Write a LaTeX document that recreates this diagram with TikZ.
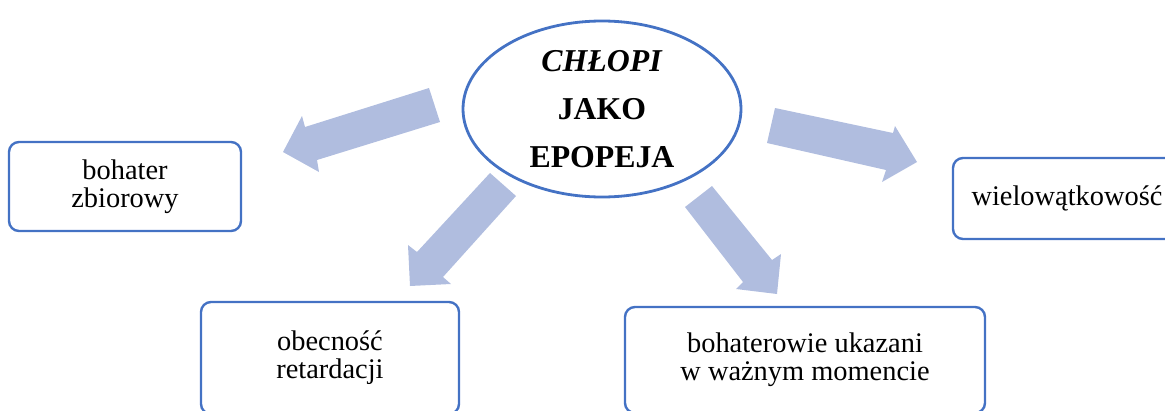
\documentclass[tikz,border=0pt]{standalone}
\usepackage{fontspec}
\setmainfont{Liberation Serif}
\usetikzlibrary{shapes.geometric}
\definecolor{boxblue}{RGB}{68,114,196}
\definecolor{arrowfill}{RGB}{176,189,223}
\tikzset{
  textbox/.style={draw=boxblue, line width=2.4pt, rounded corners=10pt, align=center,
    inner sep=0pt, font=\fontsize{28.4}{28}\selectfont},
  title/.style={draw=boxblue, line width=2.8pt, ellipse, inner sep=0pt, align=center,
    font=\fontsize{31.8}{48}\selectfont\bfseries},
  blockarrow/.style={fill=arrowfill}
}
\begin{document}
\begin{tikzpicture}[x=1pt,y=-1pt]
\useasboundingbox (0,0) rectangle (1165,410);
\clip (0,0) rectangle (1165,410);
% block arrows
\fill[blockarrow] (429,88) -- (440,122) -- (317,160) -- (319,172) -- (283,152) -- (302,116) -- (305,127) -- cycle;
\fill[blockarrow] (490,173) -- (516,196) -- (443,277) -- (451,284) -- (410,286) -- (408,245) -- (417,252) -- cycle;
\fill[blockarrow] (685,207) -- (712,186) -- (772,260) -- (781,254) -- (777,294) -- (736,289) -- (743,282) -- cycle;
\fill[blockarrow] (775,108) -- (767,143) -- (886,170) -- (882,182) -- (917,162) -- (895,126) -- (893,133) -- cycle;
% title
\node[title, minimum width=278pt, minimum height=176pt] (t) at (602,109)
  {\textit{CHŁOPI}\\JAKO\\EPOPEJA};
% boxes
\node[textbox, minimum width=232pt, minimum height=89pt] (b1) at (125,186.5) {bohater\\zbiorowy};
\node[textbox, minimum width=228pt, minimum height=81pt] (b2) at (1067,198.5) {wielowątkowość};
\node[textbox, minimum width=258pt, minimum height=112pt] (b3) at (330,358) {obecność\\retardacji};
\node[textbox, minimum width=360pt, minimum height=106pt] (b4) at (805,360) {bohaterowie ukazani\\w ważnym momencie};
\end{tikzpicture}
\end{document}
